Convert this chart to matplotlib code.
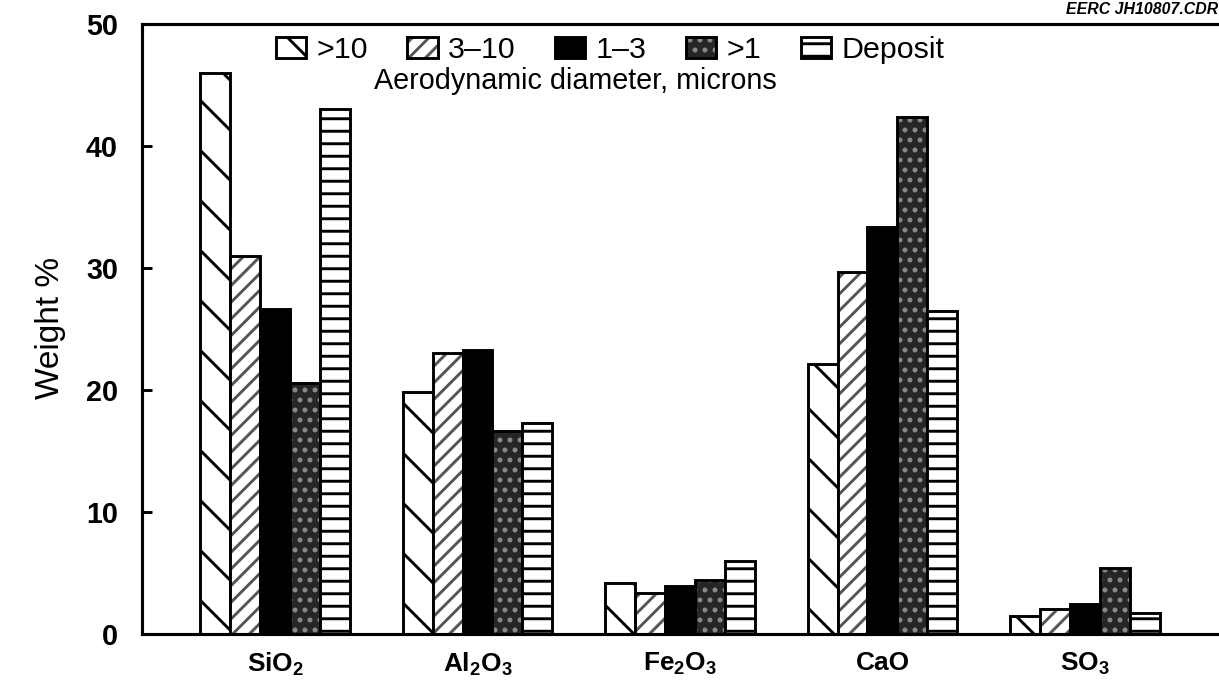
import matplotlib

matplotlib.use("Agg")
import matplotlib.pyplot as plt
import numpy as np
from matplotlib.patches import Patch

plt.rcParams["font.family"] = ["Liberation Sans", "DejaVu Sans"]
plt.rcParams["mathtext.fontset"] = "custom"
plt.rcParams["mathtext.rm"] = "Liberation Sans:bold"
plt.rcParams["hatch.linewidth"] = 0.7

# data (weight %)
oxides = [r"SiO$_\mathregular{2}$", r"Al$_\mathregular{2}$O$_\mathregular{3}$",
          r"Fe$_\mathregular{2}$O$_\mathregular{3}$", "CaO", r"SO$_\mathregular{3}$"]
size_labels = [">10", "3\u201310", "1\u20133", ">1", "Deposit"]
gt10 = [46.0, 19.8, 4.2, 22.1, 1.5]
from3to10 = [31.0, 23.0, 3.4, 29.7, 2.05]
from1to3 = [26.6, 23.3, 3.9, 33.4, 2.5]
gt1 = [20.6, 16.6, 4.4, 42.4, 5.4]
deposit = [43.0, 17.3, 6.0, 26.5, 1.7]

DPI = 300
W, H = 1219, 685

series = [gt10, from3to10, from1to3, gt1, deposit]
# face colour, hatch, hatch colour (None -> black hatch drawn with the edge)
styles = [
    ("white", "\\\\", None),
    ("white", "//////", "#555555"),
    ("black", None, None),
    ("#262626", ".....", "#8a8a8a"),
    ("white", "----", None),
]

fig = plt.figure(figsize=(W / DPI, H / DPI), dpi=DPI)
ax = fig.add_axes([142 / W, 1 - 634 / H, 1 - 142 / W, (634 - 24) / H])

x = np.arange(len(oxides))
width = 0.148
handles = []
for j, (vals, (face, hatch, hcol)) in enumerate(zip(series, styles)):
    pos = x + (j - 2) * width
    if hcol is not None:
        # coloured hatch on its own layer, then the black outline on top
        ax.bar(pos, vals, width, facecolor=face, edgecolor=hcol, hatch=hatch,
               linewidth=0)
        ax.bar(pos, vals, width, fill=False, edgecolor="black", linewidth=0.7)
        handles.append((Patch(facecolor=face, edgecolor=hcol, hatch=hatch, linewidth=0),
                        Patch(fill=False, edgecolor="black", linewidth=0.7)))
    else:
        ax.bar(pos, vals, width, facecolor=face, edgecolor="black", hatch=hatch,
               linewidth=0.7)
        handles.append(Patch(facecolor=face, edgecolor="black", hatch=hatch,
                             linewidth=0.7))

ax.set_xlim(-0.657, 4.662)
ax.set_ylim(0, 50)
ax.set_yticks(range(0, 51, 10))
ax.set_xticks(x)
ax.set_xticklabels(oxides, fontsize=6.3, fontweight="bold")
ax.tick_params(axis="x", length=0, pad=4)
ax.tick_params(axis="y", direction="in", length=2.4, width=0.7, pad=5.8,
               labelsize=6.9)
for lab in ax.get_yticklabels():
    lab.set_fontweight("bold")

ax.spines["right"].set_visible(False)
for s in ("left", "bottom", "top"):
    ax.spines[s].set_linewidth(0.75)

fig.text(50 / W, 1 - 328 / H, "Weight %", rotation=90, ha="center", va="center",
         fontsize=8.0)

ax.legend(handles=handles, labels=size_labels, ncol=5, frameon=False, loc="center",
          bbox_to_anchor=(0.4345, 0.957), fontsize=7.3, handlelength=1.0,
          handleheight=0.72, handletextpad=0.33, columnspacing=1.3,
          borderpad=0)
ax.text(0.402, 0.906, "Aerodynamic diameter, microns", transform=ax.transAxes,
        ha="center", va="center", fontsize=6.9)

fig.text(1218 / W, 1 - 9 / H, "EERC JH10807.CDR", ha="right", va="center",
         fontsize=3.8, fontstyle="italic", fontweight="bold")

fig.savefig("out.png", dpi=DPI)
